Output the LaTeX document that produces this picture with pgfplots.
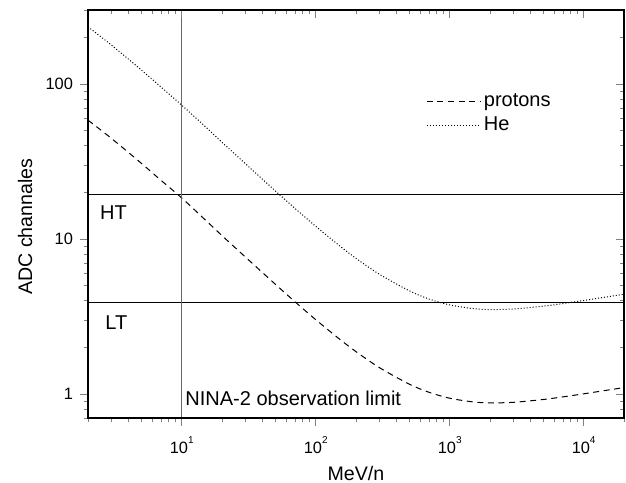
\documentclass[border=0pt]{standalone}
\usepackage{fontspec}
\setmainfont{Liberation Sans}
\usepackage{pgfplots}
\pgfplotsset{compat=1.18}
\usepackage{pgfplotstable}

\pgfplotstableread{
E y
2 58.4
3 44.45
5 30.78
7 23.92
10 18.4
15 13.28
20 10.51
30 7.627
50 5.105
70 3.940
100 3.019
150 2.267
200 1.876
300 1.477
500 1.157
700 1.026
1000 0.939
1500 0.8885
2000 0.8763
3000 0.8837
5000 0.9215
7000 0.9578
10000 1.0024
15000 1.0582
20000 1.0998
}\protons

\pgfplotstableread{
E y
2 233.6
3 177.8
5 123.1
7 95.7
10 73.0
15 53.1
20 42.04
30 30.51
50 20.42
70 15.76
100 12.08
150 9.07
200 7.50
300 5.91
500 4.63
700 4.10
1000 3.756
1500 3.554
2000 3.505
3000 3.535
5000 3.686
7000 3.831
10000 4.010
15000 4.233
20000 4.399
}\helium

\newcommand{\sep}[1]{10\raisebox{5pt}{\fontsize{5}{5}\selectfont #1}}

\begin{document}
\begin{tikzpicture}
\useasboundingbox (-44pt,-32pt) rectangle (269pt,209pt);
\begin{loglogaxis}[
  scale only axis,
  width=268pt, height=204pt,
  xmin=2, xmax=20000,
  ymin=0.7, ymax=300,
  axis line style={line width=0.6pt},
  major tick length=4pt,
  minor tick length=2.2pt,
  xtick={10,100,1000,10000},
  minor xtick={2,3,4,5,6,7,8,9,20,30,40,50,60,70,80,90,200,300,400,500,600,700,800,900,2000,3000,4000,5000,6000,7000,8000,9000,20000},
  ytick={1,10,100},
  minor ytick={0.7,0.8,0.9,2,3,4,5,6,7,8,9,20,30,40,50,60,70,80,90,200,300},
  tick align=outside,
  xtick pos=left, ytick pos=left,
  xticklabels={\sep{1},\sep{2},\sep{3},\sep{4}},
  yticklabels={1,10,100},
  tick label style={font=\fontsize{8.2}{10}\selectfont},
  xticklabel style={yshift=-1.7pt},
  xlabel={MeV/n},
  ylabel={ADC channales},
  label style={font=\fontsize{9.8}{11}\selectfont},
  xlabel style={at={(axis description cs:0.5,0)}, anchor=base, yshift=-31pt},
  ylabel style={at={(axis description cs:-0.1175,0.469)}, anchor=center},
  legend style={draw=none, fill=none, inner sep=0pt,
    at={(axis description cs:0.6306,0.747)}, anchor=west,
    font=\fontsize{10}{12}\selectfont,
    nodes={text height=7.5pt, text depth=2pt, inner sep=1.25pt}},
  legend cell align=left,
  legend image code/.code={\draw[#1] (0pt,0pt) -- (27pt,0pt);},
]
\addplot[black, line width=0.5pt, dash pattern=on 3pt off 2.3pt, smooth] table[x=E,y=y] {\protons};
\addlegendentry{protons}
\addplot[black, line width=0.5pt, dash pattern=on 0.5pt off 1pt, smooth] table[x=E,y=y] {\helium};
\addlegendentry{He}
\addplot[black, line width=0.5pt, forget plot] coordinates {(2,19.3) (20000,19.3)};
\addplot[black, line width=0.5pt, forget plot] coordinates {(2,3.87) (20000,3.87)};
\addplot[black!60, line width=0.6pt, forget plot] coordinates {(10,0.7) (10,300)};
\node[anchor=base west, inner sep=0pt, font=\fontsize{10}{12}\selectfont] at (axis cs:2.45,13.3) {HT};
\node[anchor=base west, inner sep=0pt, font=\fontsize{10}{12}\selectfont] at (axis cs:2.68,2.60) {LT};
\node[anchor=base west, inner sep=0pt, font=\fontsize{10}{12}\selectfont] at (axis cs:10.6,0.837) {NINA-2 observation limit};
\end{loglogaxis}
\begin{loglogaxis}[
  scale only axis,
  width=268pt, height=204pt,
  xmin=2, xmax=20000,
  ymin=0.7, ymax=300,
  axis line style={line width=0.6pt},
  major tick length=4pt,
  minor tick length=2.2pt,
  xtick={10,100,1000,10000},
  minor xtick={2,3,4,5,6,7,8,9,20,30,40,50,60,70,80,90,200,300,400,500,600,700,800,900,2000,3000,4000,5000,6000,7000,8000,9000,20000},
  ytick={1,10,100},
  minor ytick={0.7,0.8,0.9,2,3,4,5,6,7,8,9,20,30,40,50,60,70,80,90,200,300},
  tick align=inside,
  xtick pos=right, ytick pos=right,
  xticklabels={}, yticklabels={},
]
\end{loglogaxis}
\end{tikzpicture}
\end{document}
